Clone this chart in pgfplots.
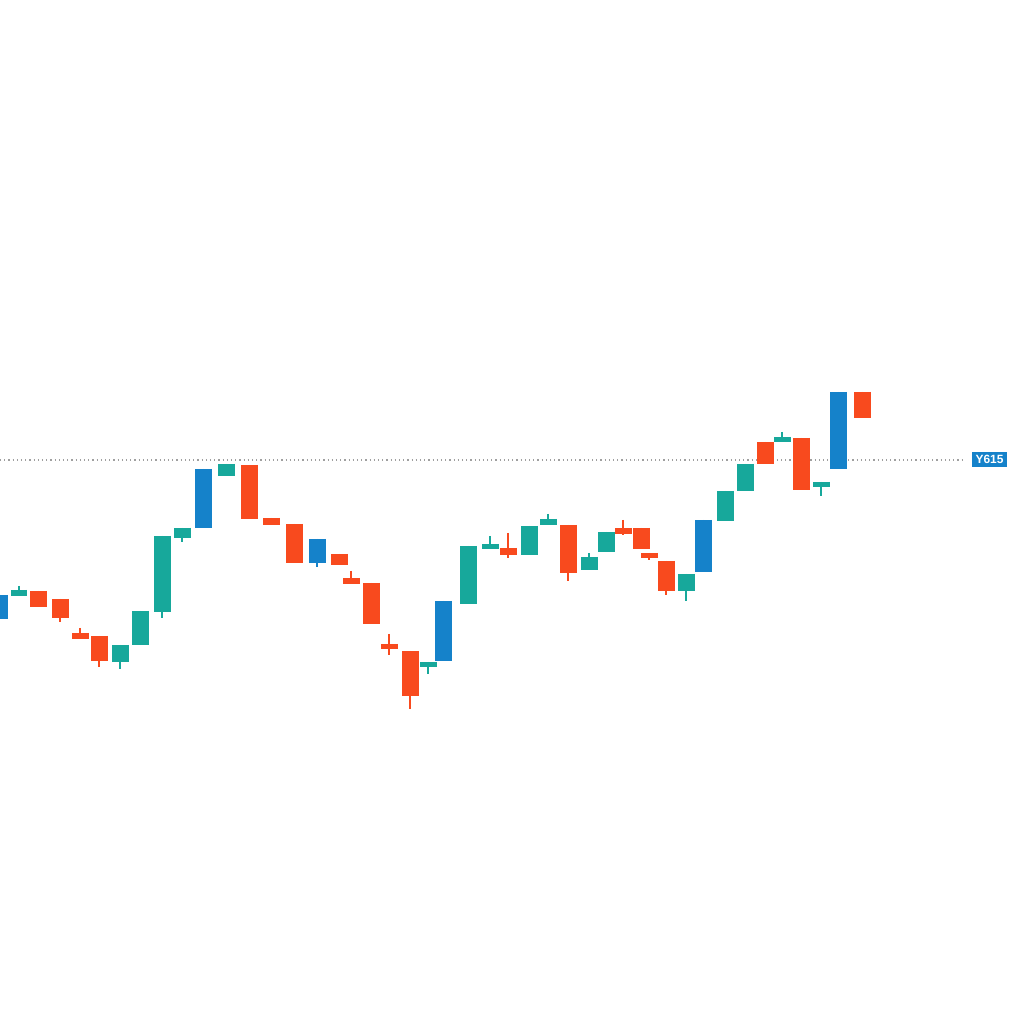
\documentclass[border=0pt]{standalone}
\usepackage{pgfplots}
\pgfplotsset{compat=1.18}
\usepackage{pgfplotstable}
\usepackage{fontspec}
\setmainfont{Liberation Sans}

\definecolor{cred}{HTML}{F84A1E}
\definecolor{cteal}{HTML}{17A89B}
\definecolor{cblue}{HTML}{1582CA}

% x  body-top  body-bottom  wick-high  wick-low
\pgfplotstableread{
x   hi  lo  whi wlo
38  433 417 433 417
60  425 406 425 402
80  391 385 396 385
99  388 363 388 357
249 559 505 559 505
271 506 499 506 499
294 500 461 500 461
339 470 459 470 459
351 446 440 453 440
371 441 400 441 400
389 380 375 390 369
410 373 328 373 315
508 476 469 491 466
568 499 451 499 443
623 496 490 504 489
641 496 475 496 475
649 471 466 471 464
666 463 433 463 429
765 582 560 582 560
801 586 534 586 534
862 632 606 632 606
}\reddata

\pgfplotstableread{
x   hi  lo  whi wlo
19  434 428 438 428
120 379 362 379 355
140 413 379 413 379
162 488 412 488 406
182 496 486 496 482
226 560 548 560 548
428 362 357 362 350
468 478 420 478 420
490 480 475 488 475
529 498 469 498 469
548 505 499 510 499
589 467 454 471 454
606 492 472 492 472
686 450 433 450 423
725 533 503 533 503
745 560 533 560 533
782 587 582 592 582
821 542 537 542 528
}\tealdata

\pgfplotstableread{
x   hi  lo  whi wlo
0   429 405 429 405
203 555 496 555 496
317 485 461 485 457
443 423 363 423 363
703 504 452 504 452
838 632 555 632 555
}\bluedata

\pgfplotsset{
  candle/.style={draw=none, mark=none, forget plot,
    error bars/.cd, y dir=minus, y explicit, error mark=none,
    error bar style={draw=#1, draw opacity=1, line width=0.17cm, line cap=butt}},
  wick/.style={draw=none, mark=none, forget plot,
    error bars/.cd, y dir=minus, y explicit, error mark=none,
    error bar style={draw=#1, draw opacity=1, line width=0.016cm}},
}

\begin{document}
\begin{tikzpicture}
\useasboundingbox (0,0) rectangle (10.24cm,10.24cm);
\fill[white] (0,0) rectangle (10.24cm,10.24cm);
\begin{axis}[
  at={(0,0)}, anchor=south west,
  scale only axis, width=10.24cm, height=10.24cm,
  xmin=0, xmax=1024, ymin=0, ymax=1024,
  hide axis,
]
\draw[gray!75, line width=0.012cm, dash pattern=on 0.012cm off 0.03cm]
  (axis cs:0,564) -- (axis cs:965,564);

\addplot[wick=cred] table[x=x, y=whi, y error expr=\thisrow{whi}-\thisrow{wlo}] {\reddata};
\addplot[wick=cteal] table[x=x, y=whi, y error expr=\thisrow{whi}-\thisrow{wlo}] {\tealdata};
\addplot[wick=cblue] table[x=x, y=whi, y error expr=\thisrow{whi}-\thisrow{wlo}] {\bluedata};

\addplot[candle=cred] table[x=x, y=hi, y error expr=\thisrow{hi}-\thisrow{lo}] {\reddata};
\addplot[candle=cteal] table[x=x, y=hi, y error expr=\thisrow{hi}-\thisrow{lo}] {\tealdata};
\addplot[candle=cblue] table[x=x, y=hi, y error expr=\thisrow{hi}-\thisrow{lo}] {\bluedata};

\node[fill=cblue, text=white, inner sep=0pt, minimum width=0.35cm, minimum height=0.15cm,
  font=\fontsize{3.4}{4}\selectfont\bfseries] at (axis cs:989.5,564.5) {Y615};
\end{axis}
\end{tikzpicture}
\end{document}
